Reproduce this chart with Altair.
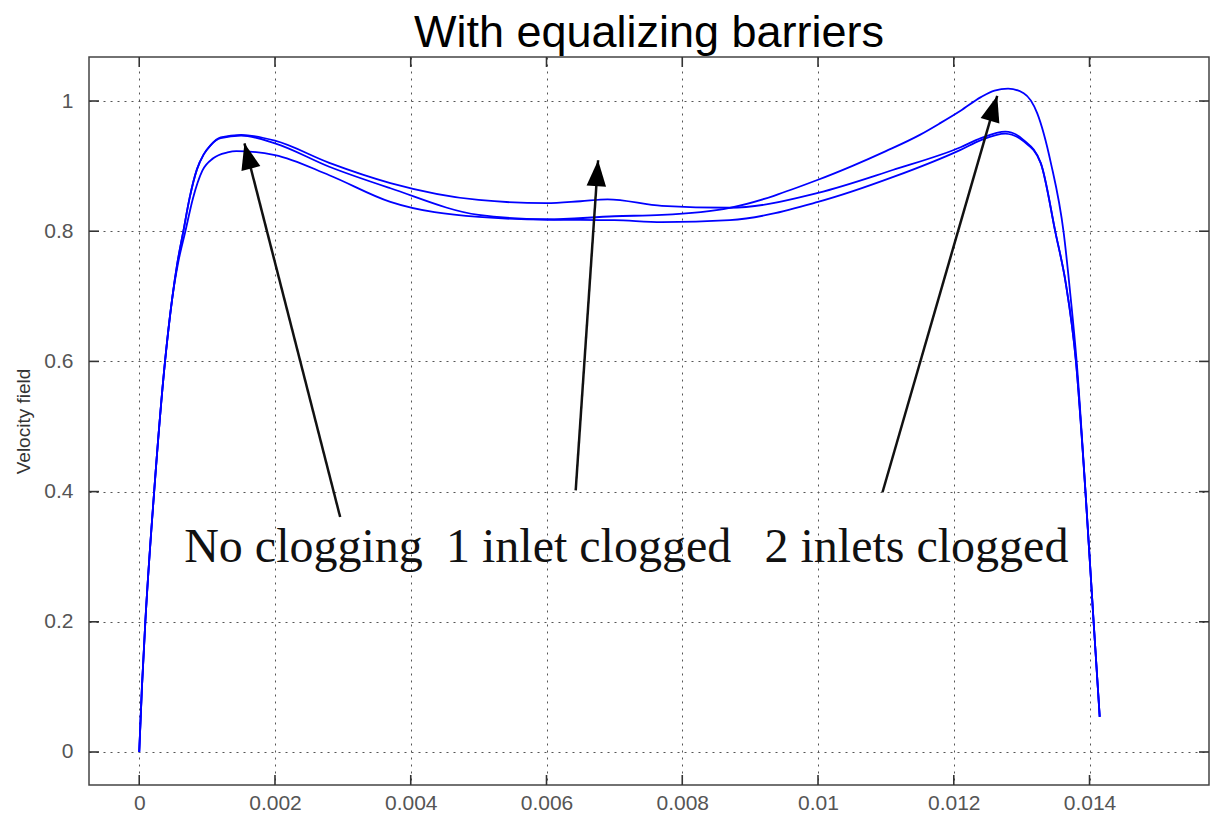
import math
import altair as alt
import pandas as pd

# ---------------- data ----------------
X_TICKS = [0, 0.002, 0.004, 0.006, 0.008, 0.010, 0.012, 0.014]
Y_TICKS = [0, 0.2, 0.4, 0.6, 0.8, 1.0]
X_DOMAIN = [-0.00074, 0.01576]
Y_DOMAIN = [-0.0507, 1.0676]

# curve with the middle bump ("1 inlet clogged")
x_one = [0, 0.00004, 0.00009, 0.00022, 0.00038, 0.00049, 0.00056, 0.00065, 0.00074, 0.00085,
         0.00095, 0.00105, 0.0012, 0.0015,
         0.002, 0.0028, 0.0037, 0.005, 0.006, 0.0065, 0.0069, 0.0077, 0.0087, 0.01,
         0.0111, 0.0121, 0.0124, 0.01276, 0.01303, 0.01328, 0.0135, 0.01365, 0.0138,
         0.01394, 0.01406, 0.01415]
y_one = [0, 0.1, 0.2, 0.4, 0.6, 0.7, 0.75, 0.8, 0.85, 0.895,
         0.918, 0.932, 0.944, 0.948,
         0.939, 0.905, 0.874, 0.848, 0.843, 0.846, 0.849, 0.839, 0.836, 0.859,
         0.894, 0.929, 0.943, 0.953, 0.940, 0.905, 0.797, 0.72, 0.6,
         0.4, 0.2, 0.054]

# "No clogging"
x_none = [0, 0.00004, 0.00009, 0.00022, 0.00038, 0.00049, 0.00056, 0.00065, 0.00074, 0.00085,
          0.00095, 0.00105, 0.0012, 0.0015,
          0.002, 0.0028, 0.0037, 0.005, 0.006, 0.007, 0.0077, 0.0087, 0.01,
          0.0111, 0.0121, 0.0124, 0.01276, 0.01303, 0.01328, 0.0135, 0.01365, 0.0138,
          0.01394, 0.01406, 0.01415]
y_none = [0, 0.1, 0.2, 0.4, 0.6, 0.7, 0.75, 0.8, 0.85, 0.895,
          0.918, 0.932, 0.943, 0.947,
          0.935, 0.899, 0.866, 0.825, 0.818, 0.817, 0.814, 0.817, 0.845,
          0.883, 0.925, 0.940, 0.950, 0.938, 0.905, 0.797, 0.72, 0.6,
          0.4, 0.2, 0.054]

# "2 inlets clogged"
x_two = [0, 0.00004, 0.00009, 0.00022, 0.00038, 0.00049, 0.00057, 0.00068, 0.00079, 0.00093,
         0.00109, 0.0013, 0.00143,
         0.002, 0.0028, 0.0037, 0.005, 0.006, 0.007, 0.0077, 0.0087, 0.01,
         0.0105, 0.011, 0.0115, 0.0118, 0.0121, 0.0124, 0.0126, 0.0128, 0.01303, 0.01323,
         0.01343, 0.01362, 0.01372, 0.01381, 0.01394, 0.01406, 0.01415]
y_two = [0, 0.1, 0.2, 0.4, 0.6, 0.7, 0.75, 0.8, 0.85, 0.893,
         0.912, 0.921, 0.923,
         0.917, 0.886, 0.845, 0.822, 0.818, 0.823, 0.825, 0.836, 0.879,
         0.900, 0.923, 0.948, 0.966, 0.985, 1.006, 1.016, 1.019, 1.012, 0.981,
         0.905, 0.797, 0.7, 0.6, 0.4, 0.2, 0.054]

labels = ["No clogging", "1 inlet clogged", "2 inlets clogged"]
label_x = [0.00242, 0.00662, 0.01145]
label_y = [0.292, 0.292, 0.292]

arrow_tail_x = [0.00296, 0.00643, 0.01095]
arrow_tail_y = [0.361, 0.402, 0.399]
arrow_tip_x = [0.00155, 0.00676, 0.01264]
arrow_tip_y = [0.935, 0.909, 1.008]

TITLE = "With equalizing barriers"
Y_TITLE = "Velocity field"

# ---------------- layout ----------------
W, H = 1120, 728
kx = W / (X_DOMAIN[1] - X_DOMAIN[0])
ky = H / (Y_DOMAIN[1] - Y_DOMAIN[0])

rows = []
for name, xs_, ys_ in [("one", x_one, y_one), ("none", x_none, y_none), ("two", x_two, y_two)]:
    for a, b in zip(xs_, ys_):
        rows.append({"series": name, "x": a, "y": b})
curves = pd.DataFrame(rows)

arrows = pd.DataFrame({
    "x": arrow_tail_x, "y": arrow_tail_y,
    "x2": arrow_tip_x, "y2": arrow_tip_y,
})
arrows["ang"] = [
    (math.degrees(math.atan2((tx - sx) * kx, (ty - sy) * ky)) + 360) % 360
    for sx, sy, tx, ty in zip(arrow_tail_x, arrow_tail_y, arrow_tip_x, arrow_tip_y)
]
texts = pd.DataFrame({"x": label_x, "y": label_y, "t": labels})
xt = pd.DataFrame({"v": X_TICKS})
yt = pd.DataFrame({"v": Y_TICKS})

xs = alt.Scale(domain=X_DOMAIN, nice=False, zero=False)
ys = alt.Scale(domain=Y_DOMAIN, nice=False, zero=False)

grid_kw = dict(grid=True, gridColor="#555555", gridDash=[2, 5], gridWidth=1, gridOpacity=1,
               domain=False, ticks=False, labelColor="#555555", labelFont="Liberation Sans",
               labelFontSize=21, format="~g")

x_axis = alt.Axis(values=X_TICKS, labelPadding=7, title=None, **grid_kw)
y_axis = alt.Axis(values=Y_TICKS, labelPadding=16, title=Y_TITLE, titleFont="Liberation Sans",
                  titleFontSize=19, titleFontWeight="normal", titleColor="#333333",
                  titleX=-66, titleY=H / 2, titleAlign="center", titleBaseline="middle",
                  **grid_kw)

lines = alt.Chart(curves).mark_line(color="#0000ff", strokeWidth=1.8, interpolate="monotone").encode(
    x=alt.X("x:Q", scale=xs, axis=x_axis),
    y=alt.Y("y:Q", scale=ys, axis=y_axis),
    detail="series:N",
)

arrow_lines = alt.Chart(arrows).mark_rule(color="#111111", strokeWidth=2.5).encode(
    x="x:Q", y="y:Q", x2="x2:Q", y2="y2:Q"
)
arrow_heads = alt.Chart(arrows).mark_point(
    shape="M0,0L-0.75,2L0.75,2Z", filled=True, color="#000000", opacity=1, size=676
).encode(
    x="x2:Q", y="y2:Q", angle=alt.Angle("ang:Q", scale=None)
)

label_text = alt.Chart(texts).mark_text(
    font="Liberation Serif", fontSize=48, align="center", baseline="alphabetic", color="#111111"
).encode(x="x:Q", y="y:Q", text="t:N")

tick_style = dict(color="#333333", strokeWidth=1.6)
xt_bottom = alt.Chart(xt).mark_rule(**tick_style).encode(
    x="v:Q", y=alt.value(H), y2=alt.value(H - 10))
xt_top = alt.Chart(xt).mark_rule(**tick_style).encode(
    x="v:Q", y=alt.value(0), y2=alt.value(10))
yt_left = alt.Chart(yt).mark_rule(**tick_style).encode(
    y="v:Q", x=alt.value(0), x2=alt.value(10))
yt_right = alt.Chart(yt).mark_rule(**tick_style).encode(
    y="v:Q", x=alt.value(W), x2=alt.value(W - 10))

chart = alt.layer(
    lines, xt_bottom, xt_top, yt_left, yt_right, arrow_lines, arrow_heads, label_text
).properties(
    width=W, height=H,
    title=alt.TitleParams(TITLE, font="Liberation Sans", fontSize=45, fontWeight="normal",
                          color="#000000", anchor="middle", offset=0),
    autosize=alt.AutoSizeParams(type="none"),
    padding={"left": 89, "top": 57, "right": 1, "bottom": 35},
    background="white",
).configure_view(stroke="#444444", strokeWidth=1.5)

chart.save("out.html", embed_options={"renderer": "svg", "actions": False})
